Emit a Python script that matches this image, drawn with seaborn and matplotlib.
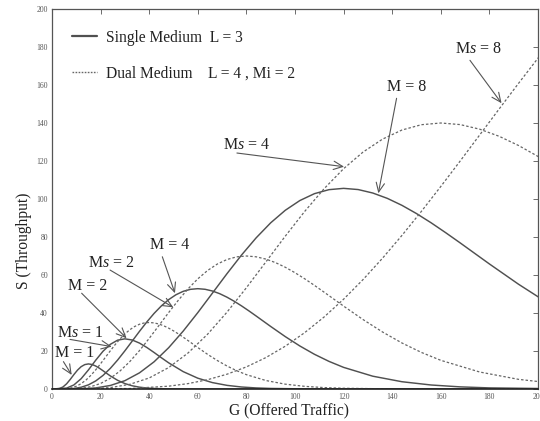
import matplotlib
matplotlib.use("Agg")
import matplotlib.pyplot as plt
import seaborn as sns
import pandas as pd
from matplotlib.lines import Line2D

# ---------------- data ----------------
# Single medium (L = 3), solid curves
G_M1 = [0, 3, 4.5, 6, 7.5, 9, 10.5, 12, 13.5, 15, 16.5, 18, 19.5, 21, 22.5, 24, 27, 30, 33, 36,
        39, 42, 45, 52.5, 60, 75, 200]
S_M1 = [0, 0.23, 1.06, 2.72, 5.03, 7.58, 9.94, 11.76, 12.85, 13.2, 12.89, 12.08, 10.94, 9.61, 8.23,
        6.89, 4.57, 2.85, 1.69, 0.96, 0.53, 0.28, 0.15, 0.03, 0.0, 0.0, 0.0]

G_M2 = [0, 6, 9, 12, 15, 18, 21, 24, 27, 30, 33, 36, 39, 42, 45, 48, 54, 60, 66, 72,
        78, 84, 90, 105, 120, 150, 200]
S_M2 = [0, 0.46, 2.13, 5.43, 10.05, 15.17, 19.88, 23.51, 25.70, 26.4, 25.79, 24.17, 21.87, 19.22,
        16.46, 13.78, 9.14, 5.69, 3.37, 1.92, 1.05, 0.56, 0.29, 0.05, 0.01, 0.0, 0.0]

G_M4 = [0, 6, 9, 12, 15, 18, 21, 24, 27, 30, 33, 36, 39, 42, 45, 48, 51, 54, 57, 60,
        63, 66, 69, 72, 75, 78, 81, 84, 87, 90, 96, 102, 108, 114, 120, 132, 144, 156, 168, 180, 210]
S_M4 = [0, 0.05, 0.28, 0.92, 2.19, 4.25, 7.15, 10.86, 15.24, 20.10, 25.21, 30.34, 35.25, 39.77,
        43.73, 47.03, 49.60, 51.41, 52.46, 52.8, 52.48, 51.58, 50.17, 48.33, 46.16, 43.74, 41.14,
        38.43, 35.67, 32.91, 27.57, 22.64, 18.27, 14.53, 11.38, 6.74, 3.83, 2.11, 1.12, 0.58, 0.11]

G_M8 = [0, 12, 18, 24, 30, 36, 42, 48, 54, 60, 66, 72, 78, 84, 90, 96, 102, 108, 114, 120,
        126, 132, 138, 144, 150, 156, 162, 168, 174, 180, 192, 204]
S_M8 = [0, 0.10, 0.56, 1.85, 4.38, 8.50, 14.31, 21.72, 30.49, 40.20, 50.42, 60.68, 70.51, 79.54,
        87.47, 94.06, 99.19, 102.81, 104.92, 105.6, 104.97, 103.15, 100.33, 96.67, 92.33, 87.49,
        82.28, 76.87, 71.34, 65.82, 55.13, 45.28]

# Dual medium (L = 4, Mi = 2), dotted curves
G_Ms1 = [0, 4, 6, 8, 10, 12, 14, 16, 18, 20, 22, 24, 26, 28, 30, 32, 34, 36, 38, 40,
         42, 44, 46, 48, 50, 52, 54, 56, 58, 60, 64, 68, 72, 76, 80, 88, 96, 104, 112, 120,
         140, 160, 180, 200]
S_Ms1 = [0, 0.03, 0.19, 0.61, 1.45, 2.82, 4.74, 7.20, 10.10, 13.32, 16.71, 20.11, 23.37, 26.36,
         28.99, 31.17, 32.88, 34.08, 34.78, 35.0, 34.79, 34.19, 33.25, 32.04, 30.60, 29.00, 27.27,
         25.48, 23.65, 21.82, 18.27, 15.01, 12.11, 9.63, 7.55, 4.47, 2.54, 1.40, 0.74, 0.39,
         0.07, 0.01, 0.0, 0.0]

G_Ms2 = [0, 8, 12, 16, 20, 24, 28, 32, 36, 40, 44, 48, 52, 56, 60, 64, 68, 72, 76, 80,
         84, 88, 92, 96, 100, 104, 108, 112, 116, 120, 128, 136, 144, 152, 160, 176, 192, 208]
S_Ms2 = [0, 0.06, 0.37, 1.23, 2.91, 5.64, 9.49, 14.40, 20.21, 26.65, 33.43, 40.22, 46.74, 52.72,
         57.98, 62.35, 65.75, 68.15, 69.55, 70.0, 69.58, 68.38, 66.51, 64.08, 61.20, 58.00, 54.54,
         50.95, 47.29, 43.63, 36.55, 30.02, 24.23, 19.26, 15.09, 8.94, 5.08, 2.79]

G_Ms4 = [0, 16, 24, 32, 40, 48, 56, 64, 72, 80, 88, 96, 104, 112, 120, 128, 136, 144, 152, 160,
         168, 176, 184, 192, 200, 208]
S_Ms4 = [0, 0.13, 0.74, 2.45, 5.81, 11.27, 18.97, 28.80, 40.42, 53.30, 66.85, 80.44, 93.48,
         105.45, 115.96, 124.70, 131.50, 136.30, 139.10, 140.0, 139.16, 136.75, 133.01, 128.16,
         122.40, 115.99]

G_Ms8 = [0, 32, 48, 56, 64, 72, 80, 88, 96, 104, 112, 120, 128, 136, 144, 152, 160, 168, 176,
         184, 192, 200, 208]
S_Ms8 = [0, 0.25, 1.48, 2.84, 4.89, 7.78, 11.63, 16.53, 22.53, 29.67, 37.93, 47.26, 57.59,
         68.82, 80.82, 93.47, 106.60, 120.04, 133.70, 147.36, 160.88, 174.13, 186.96]

legend_labels = ["Single Medium  L = 3", "Dual Medium    L = 4 , Mi = 2"]
x_ticks = [0, 20, 40, 60, 80, 100, 120, 140, 160, 180, 200]
y_ticks = [0, 20, 40, 60, 80, 100, 120, 140, 160, 180, 200]

# annotations: label, text position, arrow start, arrow tip (data coords)
ann_labels = ["M = 1", r"M$s$ = 1", "M = 2", r"M$s$ = 2", "M = 4", r"M$s$ = 4", "M = 8", r"M$s$ = 8"]
ann_text = [(9.3, 19.1), (11.8, 29.6), (14.8, 54.2), (24.2, 66.1), (48.4, 75.8), (80.2, 128.4),
            (145.9, 158.9), (175.4, 178.8)]
ann_start = [(4.7, 14.4), (7.4, 26.1), (12.2, 50.4), (23.9, 62.6), (45.4, 69.6), (76.1, 124.2),
             (141.8, 153.0), (172.0, 173.0)]
ann_tip = [(8.1, 7.4), (24.6, 22.3), (30.7, 26.7), (49.9, 43.0), (50.6, 50.4), (120.2, 117.0),
           (134.3, 103.0), (185.0, 150.4)]

# ---------------- build long table ----------------
curves = [("M=1", "single", G_M1, S_M1), ("M=2", "single", G_M2, S_M2),
          ("M=4", "single", G_M4, S_M4), ("M=8", "single", G_M8, S_M8),
          ("Ms=1", "dual", G_Ms1, S_Ms1), ("Ms=2", "dual", G_Ms2, S_Ms2),
          ("Ms=4", "dual", G_Ms4, S_Ms4), ("Ms=8", "dual", G_Ms8, S_Ms8)]
rows = []
for name, kind, gs, ss in curves:
    for g, s in zip(gs, ss):
        rows.append({"curve": name, "medium": kind, "G": g, "S": s})
df = pd.DataFrame(rows)

# ---------------- style ----------------
sns.set_theme(style="white")
plt.rcParams["font.family"] = ["Liberation Serif", "DejaVu Serif"]
plt.rcParams["mathtext.fontset"] = "custom"
plt.rcParams["mathtext.rm"] = "Liberation Serif"
plt.rcParams["mathtext.it"] = "Liberation Serif:italic"

solid_col = "#505050"
dash_col = "#666666"
dash_pattern = (0, (2.0, 1.6))

fig = plt.figure(figsize=(5.4, 4.21), dpi=100)
ax = fig.add_axes([52 / 540, 1 - 389 / 421, 486 / 540, 380 / 421])

for name, kind, gs, ss in curves:
    sub = df[df["curve"] == name]
    if kind == "single":
        sns.lineplot(data=sub, x="G", y="S", ax=ax, color=solid_col, lw=1.05,
                     estimator=None, sort=True, legend=False)
    else:
        sns.lineplot(data=sub, x="G", y="S", ax=ax, color=dash_col, lw=0.9,
                     estimator=None, sort=True, legend=False, linestyle=dash_pattern)

ax.set_xlim(0, 200)
ax.set_ylim(0, 200)
ax.set_xticks(x_ticks)
ax.set_yticks(y_ticks)
ax.tick_params(direction="in", length=3.5, width=0.6, top=True, right=True,
               labelsize=5.5, labelcolor="#555555", color="#555555", pad=3)
for sp in ax.spines.values():
    sp.set_color("#555555")
    sp.set_linewidth(0.9)
ax.spines["bottom"].set_color("#222222")
ax.spines["bottom"].set_linewidth(1.2)

ax.set_xlabel("G (Offered Traffic)", fontsize=11.2, color="#222222")
ax.set_ylabel("S (Throughput)", fontsize=11.2, color="#222222", va="center", ha="center")
ax.xaxis.set_label_coords(0.488, -0.035)
ax.yaxis.set_label_coords(-0.058, 0.39)

# legend
handles = [Line2D([], [], color=solid_col, lw=1.6),
           Line2D([], [], color=dash_col, lw=1.0, linestyle=(0, (1.2, 1.0)))]
ax.legend(handles, legend_labels, loc="upper left", bbox_to_anchor=(0.041, 0.946),
          frameon=False, fontsize=11.2, handlelength=1.6, handletextpad=0.6,
          labelspacing=1.3, borderpad=0, borderaxespad=0, labelcolor="#222222")

# annotations
for lab, txy, sxy, pxy in zip(ann_labels, ann_text, ann_start, ann_tip):
    ax.text(txy[0], txy[1], lab, fontsize=11.5, ha="center", va="center", color="#222222")
    ax.annotate("", xy=pxy, xytext=sxy,
                arrowprops=dict(arrowstyle="->,head_length=0.55,head_width=0.25",
                                color="#555555", lw=0.8, shrinkA=0, shrinkB=0))

fig.savefig("out.png", dpi=100, facecolor="white")
